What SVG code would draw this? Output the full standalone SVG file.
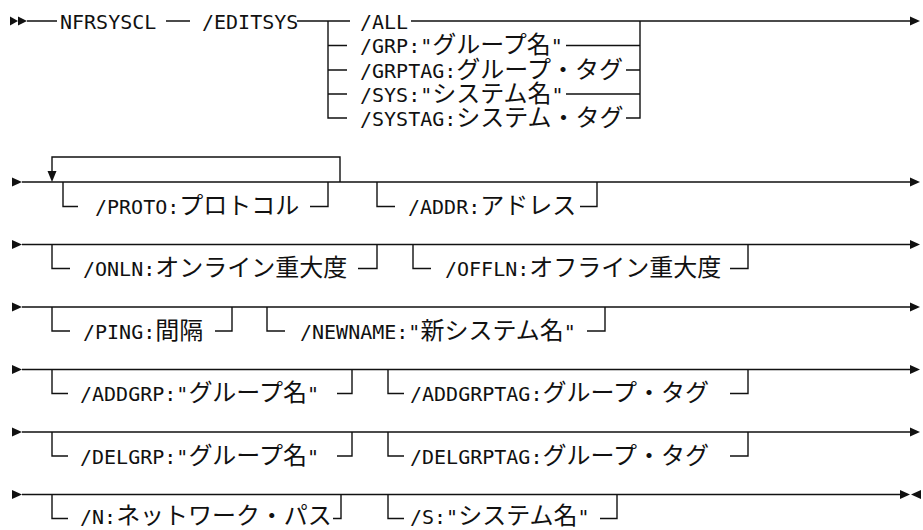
<svg xmlns="http://www.w3.org/2000/svg" width="923" height="530" viewBox="0 0 923 530">
<style>
.ln{fill:none;stroke:#111;stroke-width:1.4}
.ah{fill:#111}
text{font-family:"DejaVu Sans Mono","Liberation Mono","Noto Sans CJK JP",monospace;font-size:20px;fill:#111}
.j{font-family:"Noto Sans CJK JP","Noto Sans CJK SC",sans-serif;font-size:24px}
</style>
<rect width="923" height="530" fill="#fff"/>
<g id="connectors">
<polygon class="ah" points="10,16.5 18,21 10,25.5"/>
<polygon class="ah" points="18,16.5 27,21 18,25.5"/>
<path class="ln" d="M27,21H57M166,21H190M297,21H350M328,21V118H347M328,45.5H347M328,70H347M328,94H347"/>
<path class="ln" d="M411,21H640V118H626M566,45.5H640M626,70H640M566,94H640M640,21H911"/>
<polygon class="ah" points="910,16.5 920,21 910,25.5"/>
<polygon class="ah" points="12,177.5 22,182 12,186.5"/>
<path class="ln" d="M22,182H911M340,182V157H52V173M63,182V206.5H78M310,206.5H328V182M377,182V206.5H395M580,206.5H597V182"/>
<polygon class="ah" points="47.5,171 56.5,171 52,182"/>
<polygon class="ah" points="910,177.5 920,182 910,186.5"/>
<polygon class="ah" points="12,240 22,244.5 12,249"/>
<path class="ln" d="M22,244.5H911M52,244.5V268.5H70M358,268.5H377V244.5M413,244.5V268.5H431M730,268.5H748V244.5"/>
<polygon class="ah" points="910,240 920,244.5 910,249"/>
<polygon class="ah" points="12,302.5 22,307 12,311.5"/>
<path class="ln" d="M22,307H911M52,307V331H70M215,331H232V307M267,307V331H285M587,331H605V307"/>
<polygon class="ah" points="910,302.5 920,307 910,311.5"/>
<polygon class="ah" points="12,365 22,369.5 12,374"/>
<path class="ln" d="M22,369.5H911M52,369.5V393.5H68M337,393.5H352V369.5M388,369.5V393.5H404M730,393.5H748V369.5"/>
<polygon class="ah" points="910,365 920,369.5 910,374"/>
<polygon class="ah" points="12,427.5 22,432 12,436.5"/>
<path class="ln" d="M22,432H911M52,432V456H68M337,456H352V432M388,432V456H404M730,456H748V432"/>
<polygon class="ah" points="910,427.5 920,432 910,436.5"/>
<polygon class="ah" points="12,490 22,494.5 12,499"/>
<path class="ln" d="M22,494.5H901M52,494.5V518.5H68M333,518.5H341V494.5M388,494.5V518.5H404M600,518.5H617V494.5"/>
<polygon class="ah" points="900,490 910,494.5 900,499"/>
<polygon class="ah" points="921,490 911,494.5 921,499"/>
</g>
<g id="n-nfrsyscl"><text x="60" y="28.5">NFRSYSCL</text></g>
<g id="n-editsys"><text x="202" y="28.5">/EDITSYS</text></g>
<g id="n-all"><text x="360" y="28.5">/ALL</text></g>
<g id="n-grp"><text x="360" y="53">/GRP:"<tspan class="j">グループ名</tspan>"</text></g>
<g id="n-grptag"><text x="360" y="77.5">/GRPTAG:<tspan class="j">グループ・タグ</tspan></text></g>
<g id="n-sys"><text x="360" y="101.5">/SYS:"<tspan class="j">システム名</tspan>"</text></g>
<g id="n-systag"><text x="360" y="125.5">/SYSTAG:<tspan class="j">システム・タグ</tspan></text></g>
<g id="n-proto"><text x="95" y="214">/PROTO:<tspan class="j">プロトコル</tspan></text></g>
<g id="n-addr"><text x="408" y="214">/ADDR:<tspan class="j">アドレス</tspan></text></g>
<g id="n-onln"><text x="83" y="276">/ONLN:<tspan class="j">オンライン重大度</tspan></text></g>
<g id="n-offln"><text x="445" y="276">/OFFLN:<tspan class="j">オフライン重大度</tspan></text></g>
<g id="n-ping"><text x="83" y="338.5">/PING:<tspan class="j">間隔</tspan></text></g>
<g id="n-newname"><text x="300" y="338.5">/NEWNAME:"<tspan class="j">新システム名</tspan>"</text></g>
<g id="n-addgrp"><text x="80" y="401">/ADDGRP:"<tspan class="j">グループ名</tspan>"</text></g>
<g id="n-addgrptag"><text x="410" y="401">/ADDGRPTAG:<tspan class="j">グループ・タグ</tspan></text></g>
<g id="n-delgrp"><text x="80" y="463.5">/DELGRP:"<tspan class="j">グループ名</tspan>"</text></g>
<g id="n-delgrptag"><text x="410" y="463.5">/DELGRPTAG:<tspan class="j">グループ・タグ</tspan></text></g>
<g id="n-n"><text x="80" y="524">/N:<tspan class="j">ネットワーク・パス</tspan></text></g>
<g id="n-s"><text x="410" y="524">/S:"<tspan class="j">システム名</tspan>"</text></g>
</svg>
